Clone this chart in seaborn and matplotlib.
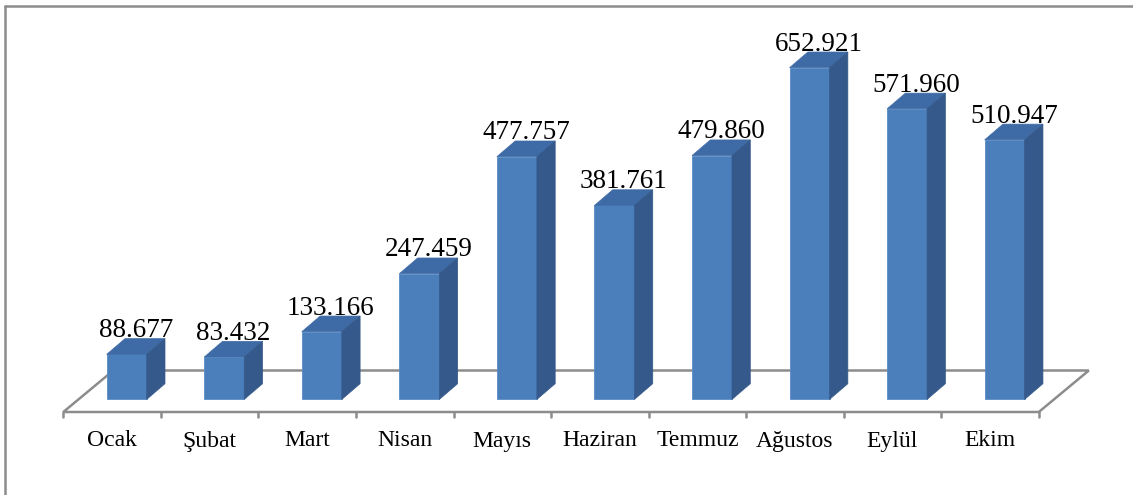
import seaborn as sns
import matplotlib.pyplot as plt
from matplotlib.patches import Polygon
from matplotlib.lines import Line2D

months = ["Ocak", "Şubat", "Mart", "Nisan", "Mayıs", "Haziran", "Temmuz", "Ağustos", "Eylül", "Ekim"]
visitors = [88677, 83432, 133166, 247459, 477757, 381761, 479860, 652921, 571960, 510947]

# colours of the three visible faces
front_col = "#4b7fbc"
side_col = "#34598a"
top_col = "#3e6ba6"
floor_col = "#8c8c8c"

W, H = 1133, 495
BAR0_PX = 126.7      # pixel x of first bar centre
CAT_PX = 97.55       # pixels per category
BASE_PX = 399.4      # pixel y of bar bottoms
UNIT_PX = 0.508 / 1000

def dx(p):
    return p / CAT_PX

def dy(p):
    return p / UNIT_PX

sns.set_style("white")
plt.rcParams["font.family"] = ["Liberation Serif", "DejaVu Serif"]
plt.rcParams["text.color"] = "black"

fig = plt.figure(figsize=(W / 100, H / 100), dpi=100)
ax = fig.add_axes([0, 0, 1, 1])

sns.barplot(x=months, y=visitors, width=0.41, color=front_col, saturation=1,
            edgecolor="#5a8cc6", linewidth=0.6, ax=ax, zorder=3)

ax.set_xlim(-BAR0_PX / CAT_PX, (W - BAR0_PX) / CAT_PX)
ax.set_ylim((BASE_PX - H) / UNIT_PX, BASE_PX / UNIT_PX)
ax.axis("off")

# floor of the 3d plot
n = len(months)
fx0 = dx(63.3 - BAR0_PX)
f_front = dy(BASE_PX - 412)
f_back = dy(BASE_PX - 370.5)
f_shift = dx(50)
floor = Polygon([(fx0, f_front), (fx0 + n, f_front), (fx0 + n + f_shift, f_back), (fx0 + f_shift, f_back)],
                closed=True, facecolor="white", edgecolor=floor_col, linewidth=1.8, zorder=1)
ax.add_patch(floor)
for k in range(n + 1):
    ax.plot([fx0 + k, fx0 + k], [f_front, f_front - dy(5)], color=floor_col, lw=1.8, zorder=1)
for i, m in enumerate(months):
    ax.text(fx0 + i + 0.5, dy(BASE_PX - 446.5), m, ha="center", va="baseline", fontsize=17, color="black")

# depth faces + value labels
ddx, ddy = dx(18.3), dy(15.7)
for p, v in zip(ax.patches, visitors):
    x, w, h = p.get_x(), p.get_width(), p.get_height()
    top = Polygon([(x, h), (x + w, h), (x + w + ddx, h + ddy), (x + ddx, h + ddy)],
                  closed=True, facecolor=top_col, edgecolor=top_col, lw=0.5, zorder=3)
    side = Polygon([(x + w, 0), (x + w + ddx, ddy), (x + w + ddx, h + ddy), (x + w, h)],
                   closed=True, facecolor=side_col, edgecolor=side_col, lw=0.5, zorder=3)
    ax.add_patch(top)
    ax.add_patch(side)
    label = f"{v:,}".replace(",", ".")
    ax.text(x + (w + ddx) / 2, h + ddy + dy(1.5), label, ha="center", va="baseline",
            fontsize=19.5, color="black", zorder=4)

# outer frame (top and left only)
fig.add_artist(Line2D([5 / W, 1], [1 - 6 / H, 1 - 6 / H], transform=fig.transFigure, color=floor_col, lw=1.8))
fig.add_artist(Line2D([5 / W, 5 / W], [0, 1 - 6 / H], transform=fig.transFigure, color=floor_col, lw=1.8))

fig.savefig("out.png", dpi=100, facecolor="white")
